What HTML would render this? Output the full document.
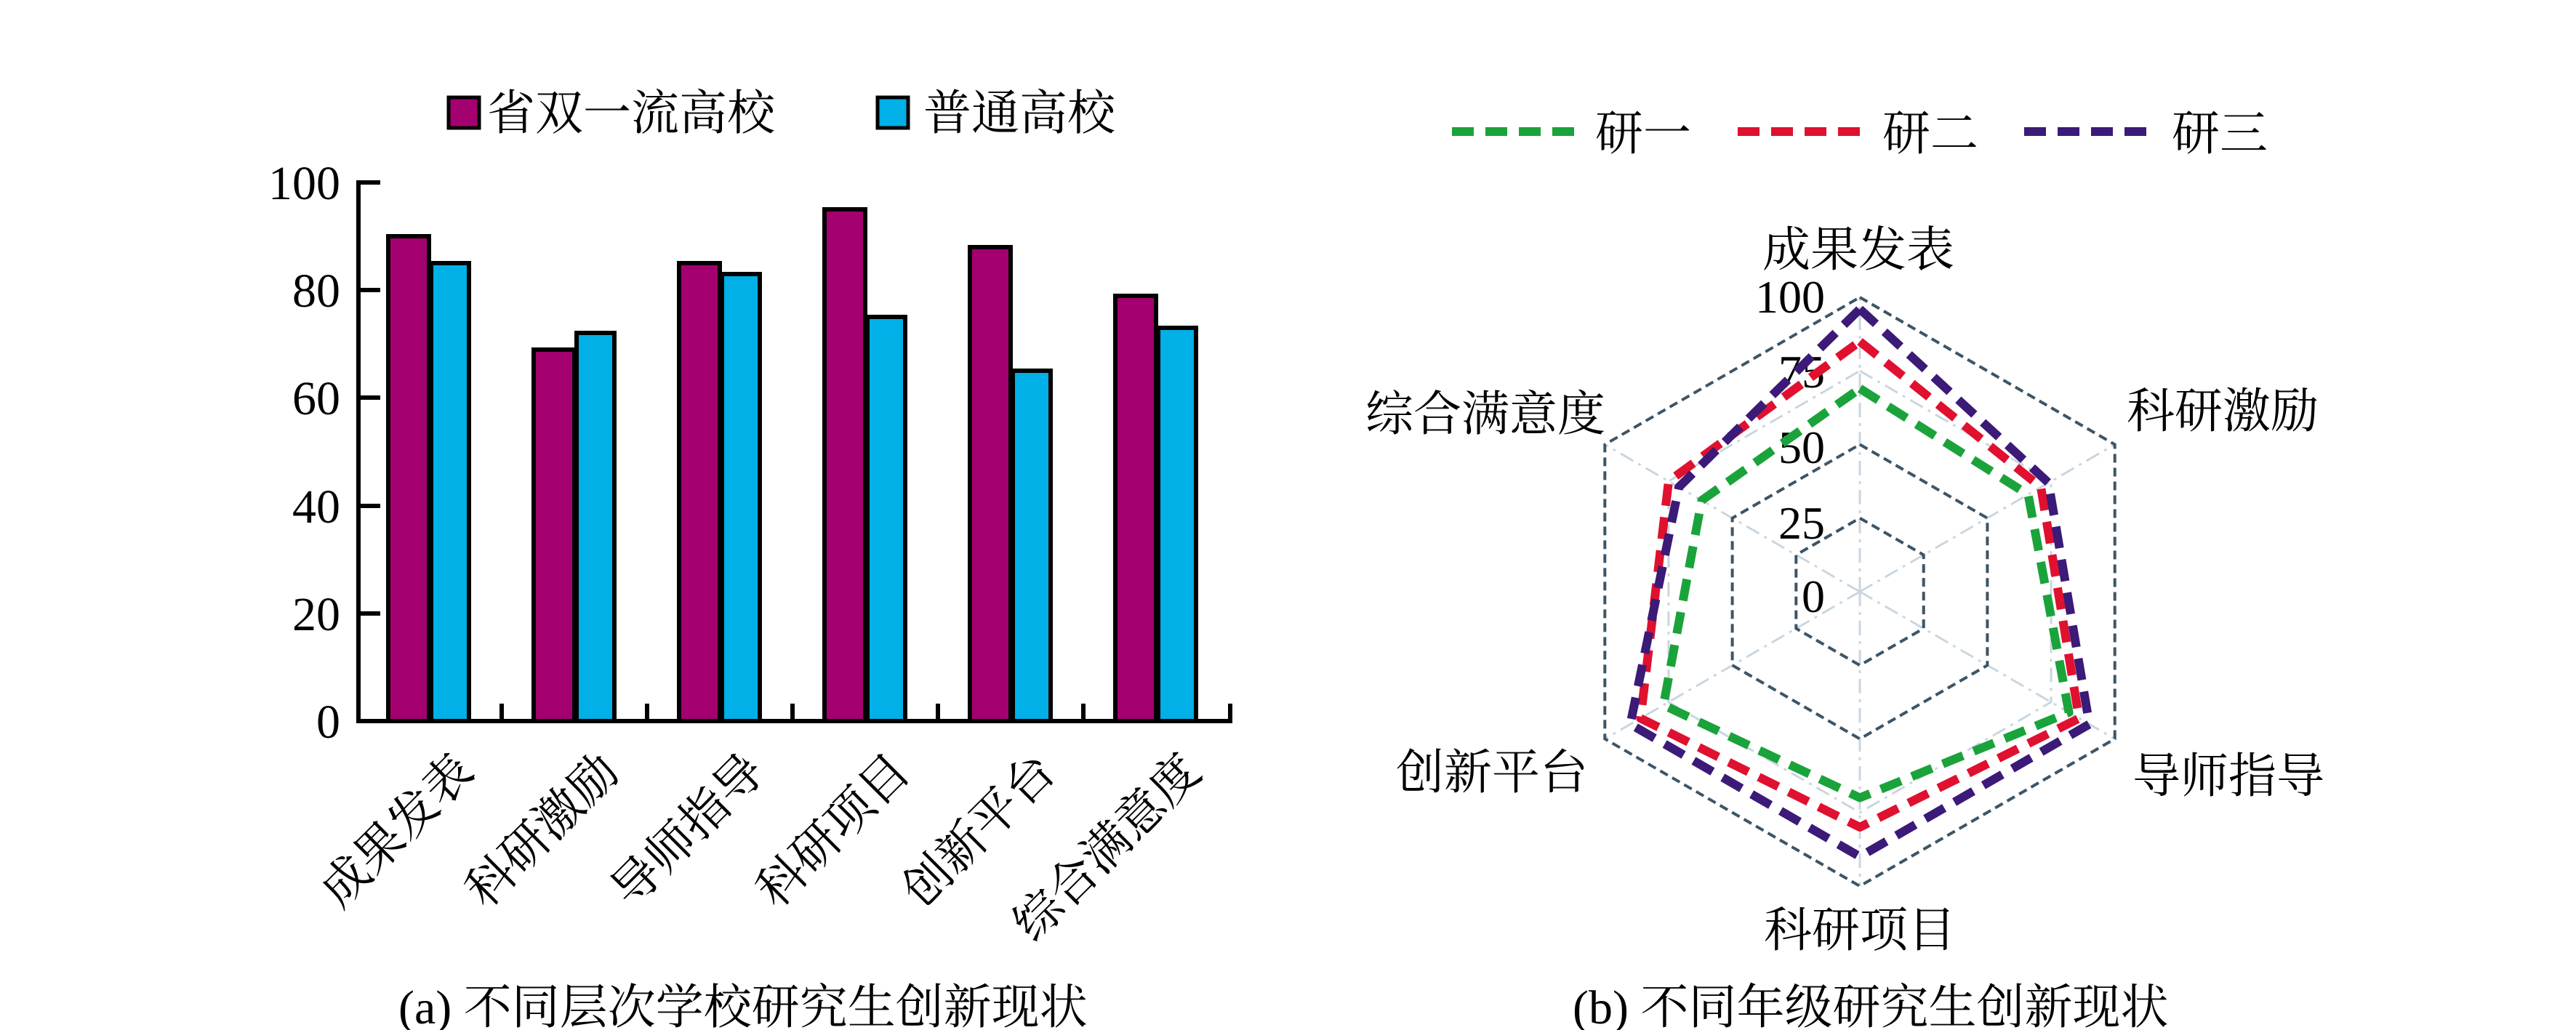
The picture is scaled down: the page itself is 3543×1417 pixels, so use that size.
<!DOCTYPE html>
<html><head><meta charset="utf-8"><style>
html,body{margin:0;padding:0;background:#fff;}
svg{display:block;}
text{font-family:"Liberation Serif","Noto Serif CJK SC","Noto Sans CJK SC",serif;fill:#000;}
</style></head><body>
<svg width="3543" height="1417" viewBox="0 0 3543 1417" xmlns="http://www.w3.org/2000/svg">
<!-- Left legend -->
<rect x="617" y="134" width="42" height="42" fill="#a4006f" stroke="#000" stroke-width="5"/>
<text x="670" y="178" font-size="66">省双一流高校</text>
<rect x="1207" y="134" width="42" height="42" fill="#00b0e6" stroke="#000" stroke-width="5"/>
<text x="1270" y="178" font-size="66">普通高校</text>
<!-- bars -->
<g stroke="#000" stroke-width="6">
<rect x="534" y="325" width="56" height="667" fill="#a4006f"/>
<rect x="593" y="362" width="52" height="630" fill="#00b0e6"/>
<rect x="734" y="481" width="56" height="511" fill="#a4006f"/>
<rect x="793" y="458" width="52" height="534" fill="#00b0e6"/>
<rect x="934" y="362" width="56" height="630" fill="#a4006f"/>
<rect x="993" y="377" width="52" height="615" fill="#00b0e6"/>
<rect x="1134" y="288" width="56" height="704" fill="#a4006f"/>
<rect x="1193" y="436" width="52" height="556" fill="#00b0e6"/>
<rect x="1334" y="340" width="56" height="652" fill="#a4006f"/>
<rect x="1393" y="510" width="52" height="482" fill="#00b0e6"/>
<rect x="1534" y="407" width="56" height="585" fill="#a4006f"/>
<rect x="1593" y="451" width="52" height="541" fill="#00b0e6"/>
</g>
<!-- axes -->
<g stroke="#000" stroke-width="6" fill="none">
<path d="M523 251 H493 V992 H1695"/>
<path d="M493 399 H523 M493 547 H523 M493 696 H523 M493 844 H523"/>
<path d="M690 992 V968 M890 992 V968 M1090 992 V968 M1290 992 V968 M1490 992 V968 M1692 992 V968"/>
</g>
<g font-size="66" text-anchor="end">
<text x="468" y="274">100</text>
<text x="468" y="422">80</text>
<text x="468" y="570">60</text>
<text x="468" y="719">40</text>
<text x="468" y="867">20</text>
<text x="468" y="1015">0</text>
</g>
<g font-size="66" text-anchor="end">
<text transform="translate(655,1065) rotate(-45)">成果发表</text>
<text transform="translate(855,1065) rotate(-45)">科研激励</text>
<text transform="translate(1055,1065) rotate(-45)">导师指导</text>
<text transform="translate(1255,1065) rotate(-45)">科研项目</text>
<text transform="translate(1455,1065) rotate(-45)">创新平台</text>
<text transform="translate(1655,1065) rotate(-45)">综合满意度</text>
</g>
<text x="548" y="1408" font-size="66">(a) 不同层次学校研究生创新现状</text>

<!-- Right legend -->
<g stroke-width="12" stroke-dasharray="30 16" fill="none">
<line x1="1997" y1="181" x2="2174" y2="181" stroke="#1aa33a"/>
<line x1="2390" y1="181" x2="2568" y2="181" stroke="#e0102f"/>
<line x1="2784" y1="181" x2="2962" y2="181" stroke="#3b1a78"/>
</g>
<g font-size="66">
<text x="2194" y="206">研一</text>
<text x="2589" y="206">研二</text>
<text x="2987" y="206">研三</text>
</g>
<!-- radar grid -->
<g fill="none">
<g stroke="#c9d6e0" stroke-width="3" stroke-dasharray="20 8 4 8">
<path d="M2558 814 L2558 409 M2558 814 L2908.7 611.5 M2558 814 L2908.7 1016.5 M2558 814 L2558 1219 M2558 814 L2207.3 1016.5 M2558 814 L2207.3 611.5"/>
<polygon points="2558,510.25 2821.05,662.1 2821.05,965.9 2558,1117.75 2294.95,965.9 2294.95,662.1"/>
</g>
<g stroke="#3d5566" stroke-width="4" stroke-dasharray="12 7">
<polygon points="2558,712.75 2645.7,763.4 2645.7,864.6 2558,915.25 2470.3,864.6 2470.3,763.4"/>
<polygon points="2558,611.5 2733.4,712.75 2733.4,915.25 2558,1016.5 2382.6,915.25 2382.6,712.75"/>
<polygon points="2558,409 2908.7,611.5 2908.7,1016.5 2558,1219 2207.3,1016.5 2207.3,611.5"/>
</g>
</g>
<g font-size="64" text-anchor="end">
<text x="2510" y="430">100</text>
<text x="2510" y="533">75</text>
<text x="2510" y="637">50</text>
<text x="2510" y="741">25</text>
<text x="2510" y="842">0</text>
</g>
<g fill="none" stroke-width="12" stroke-dasharray="30 16" stroke-linejoin="round">
<polygon stroke="#1aa33a" points="2558,534.5 2789.5,680.4 2845.6,980.1 2558,1097.5 2287.9,970 2340.5,688.4"/>
<polygon stroke="#e0102f" points="2558,469.75 2807,670.2 2859.6,988.2 2558,1138 2256.4,988.2 2295,662.1"/>
<polygon stroke="#3b1a78" points="2558,425.2 2817.5,664.2 2873.7,996.3 2558,1178.5 2242.3,996.3 2309,670.2"/>
</g>
<g font-size="66">
<text x="2556" y="366" text-anchor="middle">成果发表</text>
<text x="2925" y="588">科研激励</text>
<text x="2933" y="1090">导师指导</text>
<text x="2558" y="1302" text-anchor="middle">科研项目</text>
<text x="2184" y="1085" text-anchor="end">创新平台</text>
<text x="2208" y="592" text-anchor="end">综合满意度</text>
</g>
<text x="2163" y="1408" font-size="66">(b) 不同年级研究生创新现状</text>
</svg>
</body></html>
